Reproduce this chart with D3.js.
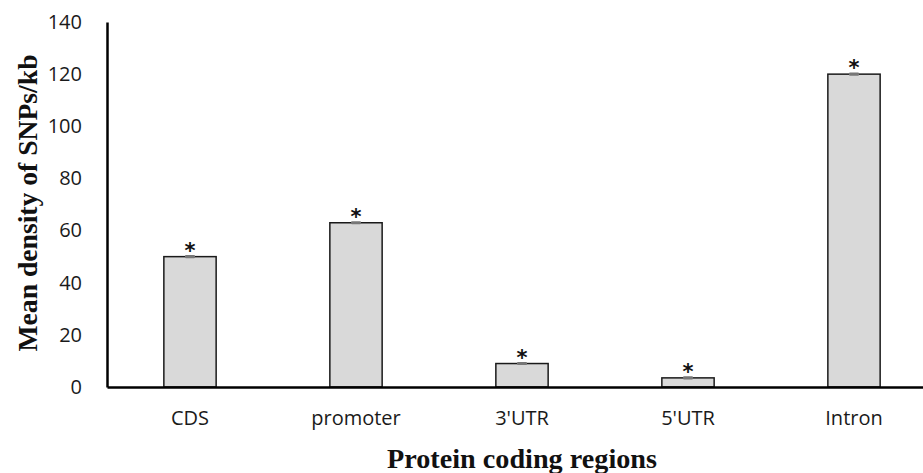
<!DOCTYPE html>
<html>
<head>
<meta charset="utf-8">
<script src="https://cdn.jsdelivr.net/npm/d3@7"></script>
<style>
  body { margin: 0; background: #fff; }
  svg { display: block; }
</style>
</head>
<body>
<div id="chart"></div>
<script>
// data
var categories = ["CDS", "promoter", "3'UTR", "5'UTR", "Intron"];
var values = [50, 63, 9, 3.5, 120];
var errors = [0.6, 0.6, 0.6, 0.6, 0.6];
var marks = ["*", "*", "*", "*", "*"];
var yTicks = [0, 20, 40, 60, 80, 100, 120, 140];

var svgWidth = 923;
var svgHeight = 473;

var margin = { top: 22, right: -14, bottom: 86, left: 107 };
var chartWidth = svgWidth - margin.left - margin.right;
var chartHeight = svgHeight - margin.top - margin.bottom;

var svg = d3.select("#chart")
    .append("svg")
    .attr("width", svgWidth)
    .attr("height", svgHeight);

var chartGroup = svg.append("g")
    .attr("transform", `translate(${margin.left}, ${margin.top})`);

var data = categories.map(function (c, i) {
    return { name: c, value: values[i], err: errors[i], mark: marks[i] };
});

var xScale = d3.scaleBand()
    .domain(categories)
    .range([0, chartWidth])
    .paddingInner(0.685)
    .paddingOuter(0.3425);

var yScale = d3.scaleLinear()
    .domain([0, 140])
    .range([chartHeight, 0]);

// y axis: line plus labels, no tick marks
var yAxis = d3.axisLeft(yScale).tickValues(yTicks).tickSize(0).tickPadding(25);
var yG = chartGroup.append("g").call(yAxis);
yG.attr("font-size", null).attr("font-family", null);
yG.select(".domain").attr("stroke", "#000").attr("stroke-width", 2.5);
yG.selectAll("text")
    .style("font-family", "'Open Sans', sans-serif")
    .style("font-size", "20px")
    .attr("fill", "#1a1a1a");

// bars
chartGroup.selectAll(".bar")
    .data(data)
    .enter()
    .append("rect")
    .attr("class", "bar")
    .attr("x", d => xScale(d.name))
    .attr("y", d => yScale(d.value))
    .attr("width", xScale.bandwidth())
    .attr("height", d => chartHeight - yScale(d.value))
    .attr("fill", "#d9d9d9")
    .attr("stroke", "#1a1a1a")
    .attr("stroke-width", 1.5);

// error bars
chartGroup.selectAll(".err")
    .data(data)
    .enter()
    .append("rect")
    .attr("class", "err")
    .attr("x", d => xScale(d.name) + xScale.bandwidth() / 2 - 5)
    .attr("y", d => yScale(d.value + d.err))
    .attr("width", 10)
    .attr("height", d => Math.max(2.5, yScale(d.value - d.err) - yScale(d.value + d.err)))
    .attr("rx", 1)
    .attr("fill", "#777");

// asterisks
chartGroup.selectAll(".star")
    .data(data)
    .enter()
    .append("text")
    .attr("class", "star")
    .attr("x", d => xScale(d.name) + xScale.bandwidth() / 2)
    .attr("y", d => yScale(d.value) + 1)
    .attr("text-anchor", "middle")
    .style("font-family", "'DejaVu Sans', sans-serif")
    .style("font-weight", "bold")
    .style("font-size", "21px")
    .attr("fill", "#111")
    .text(d => d.mark);

// x axis
var xAxis = d3.axisBottom(xScale).tickSize(0).tickPadding(38);
var xG = chartGroup.append("g")
    .attr("transform", `translate(0, ${chartHeight})`)
    .call(xAxis);
xG.attr("font-size", null).attr("font-family", null);
xG.select(".domain").attr("stroke", "#000").attr("stroke-width", 2.5);
xG.selectAll("text")
    .style("font-family", "'Open Sans', sans-serif")
    .style("font-size", "20px")
    .attr("fill", "#1a1a1a")
    .attr("dy", "0");

// axis titles
svg.append("text")
    .attr("x", 522)
    .attr("y", 468)
    .attr("text-anchor", "middle")
    .style("font-family", "'Liberation Serif', serif")
    .style("font-weight", "bold")
    .style("font-size", "27px")
    .attr("textLength", 270)
    .attr("lengthAdjust", "spacingAndGlyphs")
    .attr("fill", "#111")
    .text("Protein coding regions");

svg.append("text")
    .attr("transform", "translate(37, 203) rotate(-90)")
    .attr("text-anchor", "middle")
    .style("font-family", "'Liberation Serif', serif")
    .style("font-weight", "bold")
    .style("font-size", "27px")
    .attr("textLength", 297)
    .attr("lengthAdjust", "spacingAndGlyphs")
    .attr("fill", "#111")
    .text("Mean density of SNPs/kb");
</script>
</body>
</html>
